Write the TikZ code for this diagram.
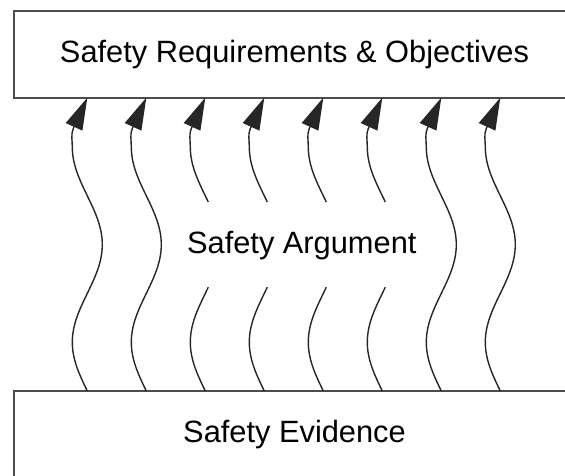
\documentclass[tikz,border=0pt]{standalone}
\usepackage{fontspec}
\setmainfont{Liberation Sans}
\usetikzlibrary{arrows.meta,calc}
\begin{document}
\begin{tikzpicture}[x=1pt,y=1pt,
  box/.style={draw=black!70, line width=2pt, minimum width=561pt, minimum height=87pt,
    inner sep=0pt, outer sep=0pt, anchor=south west, font=\fontsize{30.8}{36}\selectfont},
  lbl/.style={font=\fontsize{30.8}{36}\selectfont, inner sep=0pt},
  wave/.style={draw=black!85, line width=1.4pt},
  arr/.style={wave, -{Triangle[length=32pt,width=18pt]}}]
\useasboundingbox (0,0) rectangle (565,476);
\clip (0,0) rectangle (565,476);
\node[box] (req) at (14,378.3) {Safety Requirements \& Objectives};
\node[box] (evid) at (14,-2) {Safety Evidence};
\node[lbl, anchor=base] (arg) at (301.8,222.7) {Safety Argument};
\foreach \i in {0,...,7} {
  \coordinate (b\i) at ($(evid.north west)+(73.3+59*\i,0)$);
  \coordinate (t\i) at ($(req.south west)+(73.3+59*\i,0)$);
}
% full waves
\foreach \i in {0,1,6,7} {
  \pgfmathsetmacro\c{87.3+59*\i}
  \draw[arr] (b\i)
    .. controls (\c-7.7,100.9) and (\c-15,116.1) .. (\c-15,133.8)
    .. controls (\c-15,151.5) and (\c-7.7,166.7) .. (\c,182.6)
    .. controls (\c+7.7,198.5) and (\c+15,213.7) .. (\c+15,231.4)
    .. controls (\c+15,249.1) and (\c+7.7,264.3) .. (\c,280.2)
    .. controls (\c-7.7,296.1) and (\c-15,311.3) .. (\c-15,329)
    .. controls (\c-15,335) and (\c-16.5,341.9) .. (\c-14,347.5)
    -- (t\i);
}
% split waves
\foreach \i in {2,3,4,5} {
  \pgfmathsetmacro\c{87.3+59*\i}
  \coordinate (d\i) at (\c+3,188.8);
  \coordinate (u\i) at (\c+3,274);
  \draw[wave] (b\i)
    .. controls (\c-7.7,100.9) and (\c-15,116.1) .. (\c-15,133.8)
    .. controls (\c-15,151.5) and (\c-7.7,166.7) .. (\c,182.6)
    -- (d\i);
  \draw[arr] (u\i) -- (\c,280.2)
    .. controls (\c-7.7,296.1) and (\c-15,311.3) .. (\c-15,329)
    .. controls (\c-15,335) and (\c-16.5,341.9) .. (\c-14,347.5)
    -- (t\i);
}
\end{tikzpicture}
\end{document}
